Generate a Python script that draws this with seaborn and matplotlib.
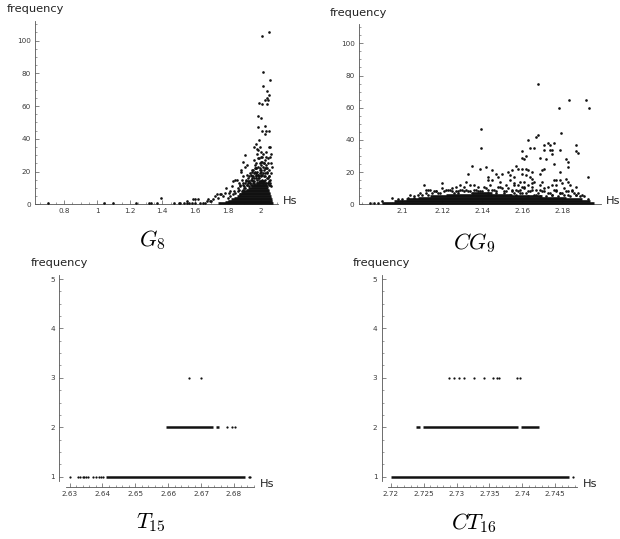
import matplotlib
matplotlib.use("Agg")
import matplotlib.pyplot as plt
import seaborn as sns
from matplotlib.ticker import AutoMinorLocator

# -----------------------------
# Values
# *_x / *_y are single points, *_run_* are the solid stretches per frequency
# -----------------------------
g8_x = [0.70, 1.04, 1.10, 1.24, 1.32, 1.33, 1.37, 1.39, 1.47, 1.50, 1.51, 1.53, 1.55, 1.56, 1.55, 1.58, 1.60,
        1.598, 1.615, 1.585, 1.63, 1.65, 1.66, 1.67, 1.68, 1.69, 1.70, 1.71, 1.72, 1.731, 1.74, 1.751, 1.76, 1.772,
        1.782, 1.792, 1.81, 1.812, 1.823, 1.833, 1.839, 1.843, 1.857, 1.867, 1.874, 1.878, 1.878, 1.894, 1.894, 1.904,
        1.908, 1.910, 1.92, 1.929, 1.941, 1.949, 1.955, 1.961, 1.965, 1.965, 1.971, 1.975, 1.975, 1.98, 1.982, 1.984,
        1.986, 1.986, 1.99, 1.99, 1.996, 1.996, 2.002, 2.002, 2.002, 2.006, 2.006, 2.01, 2.01, 2.012, 2.016, 2.016,
        2.016, 2.016, 2.026, 2.026, 2.026, 2.026, 2.027, 2.031, 2.031, 2.031, 2.037, 2.037, 2.037, 2.037, 2.043, 2.043,
        2.043, 2.049, 2.051, 2.051, 2.051, 2.051, 2.057, 2.057, 2.059, 2.063, 2.067, 2.067, 2.073,
        1.93, 1.94, 1.95, 1.96, 1.97, 1.98, 1.99, 2.00, 2.01, 2.02, 2.03, 2.04, 2.05, 2.06, 1.92, 1.935, 1.945,
        1.955, 1.968, 1.978, 1.992, 2.004, 2.014, 2.024, 2.034, 2.046, 2.056, 2.066, 1.90, 1.885, 1.87, 1.96, 2.00,
        1.86, 1.875, 1.89, 1.905, 1.915, 1.925, 1.938, 1.948, 1.958, 1.97, 1.98, 1.99, 2.00, 2.01, 2.02, 2.03, 2.04,
        2.05, 2.06, 1.95, 1.962, 1.972, 1.984, 1.994, 2.006, 2.018, 2.028, 2.04, 2.052, 1.97, 1.982, 1.994, 2.008,
        2.022, 2.034, 2.048, 1.978, 1.992, 2.012, 2.024, 2.036, 1.83, 1.845, 1.86, 1.875, 1.89, 1.80, 1.815]
g8_y = [1, 1, 1, 1, 1, 1, 1, 4, 1, 1, 1, 1, 1, 1, 2, 1, 1,
        3, 3, 3, 1, 1, 1, 2, 3, 2, 2, 3, 5, 6, 4, 6, 6, 5,
        7, 10, 7, 8, 11, 14, 8, 15, 15, 13, 12, 21, 20, 26, 13, 30,
        23, 15, 24, 17, 18, 20, 17, 35, 24, 22, 37, 25, 19, 34, 54, 47,
        33, 23, 39, 62, 35, 19, 53, 26, 29, 32, 21, 45, 61, 103, 81, 72,
        31, 19, 48, 43, 27, 22, 64, 45, 32, 29, 69, 65, 61, 19, 64, 28,
        25, 45, 105, 67, 35, 21, 35, 29, 76, 19, 31, 25, 23,
        14, 15, 16, 14, 17, 15, 16, 18, 15, 17, 15, 16, 14, 13, 12, 13, 12,
        13, 12, 13, 13, 14, 13, 14, 13, 13, 12, 11, 10, 8, 9, 27, 24,
        10, 11, 9, 10, 12, 14, 13, 15, 16, 18, 20, 17, 20, 18, 21, 17, 20,
        17, 15, 21, 19, 22, 18, 21, 17, 23, 19, 22, 17, 19, 28, 25, 29,
        25, 24, 16, 31, 28, 26, 25, 22, 6, 7, 8, 6, 7, 4, 5]
g8_more_x = [1.885, 1.895, 1.905, 1.915, 1.925, 1.935, 1.945, 1.955, 1.965, 1.975, 1.985, 1.995,
             1.89, 1.90, 1.912, 1.922, 1.932, 1.942, 1.952, 1.962, 1.972, 1.982, 2.045, 2.055]
g8_more_y = [15, 17, 13, 18, 16, 19, 17, 21, 20, 22, 18, 22,
             12, 11, 14, 13, 11, 12, 14, 13, 16, 16, 13, 12]

g8_run_freq = [1, 1.6, 2, 3, 4, 5, 6, 7, 8, 9, 10, 11, 12, 13, 14]
g8_run_lo = [1.74, 1.78, 1.80, 1.82, 1.84, 1.855, 1.868, 1.88, 1.895, 1.91, 1.925, 1.94, 1.955, 1.97, 1.985]
g8_run_hi = [2.075, 2.072, 2.07, 2.068, 2.064, 2.062, 2.058, 2.056, 2.054, 2.05, 2.048, 2.044, 2.04, 2.034, 2.024]

cg9_x = [2.168, 2.1834, 2.192, 2.1784, 2.1935, 2.1395, 2.1795, 2.168, 2.1667, 2.1627, 2.1395, 2.160, 2.164, 2.166,
         2.162, 2.160, 2.161, 2.171, 2.173, 2.174, 2.176, 2.171, 2.174, 2.175, 2.175, 2.169, 2.172, 2.176, 2.179,
         2.187, 2.187, 2.188, 2.182, 2.183, 2.183, 2.179, 2.193, 2.171, 2.170, 2.169, 2.157, 2.158, 2.160, 2.162,
         2.163, 2.165, 2.155, 2.153, 2.154, 2.156, 2.160, 2.162, 2.164, 2.165, 2.166, 2.170, 2.169, 2.142, 2.145,
         2.147, 2.150, 2.148, 2.143, 2.145, 2.143, 2.149, 2.154, 2.156, 2.159, 2.156, 2.158, 2.160, 2.161, 2.163,
         2.165, 2.176, 2.177, 2.179, 2.182, 2.183, 2.175, 2.177, 2.180, 2.184, 2.187, 2.190,
         2.135, 2.133, 2.139, 2.111, 2.120, 2.120, 2.112, 2.113, 2.114, 2.112, 2.117, 2.118, 2.104, 2.108, 2.103,
         2.106, 2.095, 2.090, 2.084, 2.086, 2.088, 2.100, 2.098, 2.125, 2.127, 2.129, 2.132, 2.134, 2.136, 2.138,
         2.131, 2.132, 2.125, 2.127, 2.130, 2.136, 2.138, 2.142, 2.146, 2.150, 2.152, 2.155, 2.158, 2.161, 2.164,
         2.167, 2.170, 2.173, 2.176, 2.179, 2.182, 2.185, 2.188, 2.154, 2.157, 2.160, 2.163, 2.166, 2.169, 2.172,
         2.175, 2.178, 2.181, 2.184, 2.187, 2.191, 2.193, 2.144, 2.148, 2.122, 2.128, 2.134, 2.115, 2.110, 2.106,
         2.116, 2.119, 2.123, 2.126, 2.129, 2.133, 2.137, 2.140, 2.143, 2.147, 2.151, 2.153, 2.156, 2.159, 2.162,
         2.165, 2.168, 2.171, 2.174, 2.177, 2.180, 2.183, 2.186, 2.189, 2.141, 2.145, 2.149, 2.152, 2.157, 2.161,
         2.165, 2.169, 2.173, 2.177, 2.181, 2.185, 2.121, 2.124, 2.128, 2.131, 2.135, 2.139, 2.143, 2.147, 2.151,
         2.155, 2.159, 2.163, 2.167, 2.171, 2.175, 2.179, 2.183, 2.187, 2.109, 2.113, 2.117]
cg9_y = [75, 65, 65, 60, 60, 47, 44, 43, 42, 40, 35, 33, 35, 35,
         30, 29, 28, 37, 38, 37, 38, 34, 34, 34, 31, 29, 28, 25, 34,
         37, 33, 32, 28, 26, 23, 20, 17, 22, 21, 19, 24, 22, 22, 22,
         21, 20, 21, 20, 18, 17, 19, 18, 17, 16, 14, 14, 12, 23, 21,
         19, 19, 17, 17, 15, 15, 14, 15, 13, 14, 12, 12, 11, 14, 12,
         13, 15, 15, 15, 16, 14, 12, 12, 13, 12, 11, 6,
         24, 19, 22, 12, 13, 10, 9, 9, 9, 7, 8, 7, 6, 6, 4,
         4, 4, 2, 1, 1, 1, 3, 3, 10, 11, 12, 14, 12, 12, 11,
         11, 9, 8, 8, 9, 9, 8, 10, 9, 10, 8, 9, 8, 10, 8,
         9, 8, 7, 9, 7, 8, 9, 7, 6, 6, 7, 5, 6, 5, 5,
         6, 5, 6, 5, 6, 5, 3, 12, 11, 9, 8, 8, 7, 6, 5,
         8, 7, 9, 7, 9, 8, 9, 8, 9, 7, 8, 10, 7, 9, 7,
         9, 7, 10, 7, 9, 7, 8, 7, 5, 11, 9, 11, 12, 9, 11,
         11, 9, 11, 8, 10, 8, 8, 9, 7, 8, 7, 8, 7, 8, 7,
         8, 7, 8, 6, 8, 6, 7, 6, 6, 7, 6, 8]

cg9_run_freq = [1, 2, 3, 4, 5, 6, 7]
cg9_run_lo = [2.090, 2.096, 2.102, 2.108, 2.114, 2.122, 2.135]
cg9_run_hi = [2.196, 2.194, 2.190, 2.182, 2.170, 2.155, 2.145]

t15_x = [2.63, 2.6325, 2.6332, 2.634, 2.6345, 2.635, 2.6357, 2.6372, 2.638, 2.639, 2.6396, 2.6402, 2.6845, 2.685,
         2.6779, 2.6794, 2.6804, 2.6664, 2.67]
t15_y = [1, 1, 1, 1, 1, 1, 1, 1, 1, 1, 1, 1, 1, 1,
         2, 2, 2, 3, 3]
t15_run_freq = [1, 2, 2]
t15_run_lo = [2.641, 2.6593, 2.6745]
t15_run_hi = [2.6835, 2.6735, 2.6755]

ct16_x = [2.7477, 2.7288, 2.7296, 2.7304, 2.7312, 2.7326, 2.7342, 2.7356, 2.7361, 2.7365, 2.7392, 2.7397]
ct16_y = [1, 3, 3, 3, 3, 3, 3, 3, 3, 3, 3, 3]
ct16_run_freq = [1, 2, 2, 2]
ct16_run_lo = [2.72, 2.7238, 2.7249, 2.7398]
ct16_run_hi = [2.7471, 2.7245, 2.7394, 2.7426]

sns.set_style("ticks")
plt.rcParams["mathtext.fontset"] = "cm"

W, H = 620, 539
INK = "#111111"
AXIS = "#555555"
TICK = "#3a3a3a"

fig = plt.figure(figsize=(W / 100, H / 100), dpi=100)


# Helper: one panel, box given in picture pixels (left, top, right, bottom)
def panel(box, xlim, ylim, xticks, xlabels, yticks, xpad, ypad, ms, run_lw, xs, ys, rf, rl, rh, minor):
    left, top, right, bottom = box
    ax = fig.add_axes([left / W, 1 - bottom / H, (right - left) / W, (bottom - top) / H])
    ax.set_xlim(*xlim)
    ax.set_ylim(*ylim)
    ax.hlines(rf, rl, rh, color=INK, linewidth=run_lw, clip_on=False, zorder=3)
    sns.scatterplot(x=xs, y=ys, ax=ax, s=ms, color=INK, linewidth=0, clip_on=False, zorder=3)
    ax.set_xticks(xticks)
    ax.set_xticklabels(xlabels)
    ax.set_yticks(yticks)
    ax.xaxis.set_minor_locator(AutoMinorLocator(minor[0]))
    ax.yaxis.set_minor_locator(AutoMinorLocator(minor[1]))
    ax.tick_params(which="major", direction="in", length=3, width=0.5, color=AXIS, labelsize=5.2,
                   labelcolor=TICK, pad=3)
    ax.tick_params(which="minor", direction="in", length=1.5, width=0.4, color=AXIS)
    sns.despine(ax=ax)
    ax.spines["left"].set_position(("outward", ypad * 0.72))
    ax.spines["bottom"].set_position(("outward", xpad * 0.72))
    for side in ["left", "bottom"]:
        ax.spines[side].set_color(AXIS)
        ax.spines[side].set_linewidth(0.6)
    return ax


def label(x, y, text, size=8.2, color="#222222", ha="left"):
    fig.text(x / W, 1 - y / H, text, fontsize=size, color=color, ha=ha, va="center")


panel((35, 21, 278, 204.3), (0.621, 2.107), (0, 112),
      [0.8, 1, 1.2, 1.4, 1.6, 1.8, 2], ["0.8", "1", "1.2", "1.4", "1.6", "1.8", "2"],
      [0, 20, 40, 60, 80, 100], 0, 0, 3.6, 1.9, g8_x + g8_more_x, g8_y + g8_more_y,
      g8_run_freq, g8_run_lo, g8_run_hi, (4, 4))

panel((358.7, 24, 601, 204.3), (2.0782, 2.1994), (0, 112),
      [2.1, 2.12, 2.14, 2.16, 2.18], ["2.1", "2.12", "2.14", "2.16", "2.18"],
      [0, 20, 40, 60, 80, 100], 0, 0, 3.6, 1.9, cg9_x, cg9_y, cg9_run_freq, cg9_run_lo, cg9_run_hi, (4, 4))

# lower panels: the axes do not meet, the spines sit a few pixels off the box
t_ylim = (1 - 4.3 / 49.4, 5 + 4 / 49.4)
panel((66, 275, 254, 481), (2.6289, 2.6861), t_ylim,
      [2.63, 2.64, 2.65, 2.66, 2.67, 2.68], ["2.63", "2.64", "2.65", "2.66", "2.67", "2.68"],
      [1, 2, 3, 4, 5], 6.3, 6.7, 2.6, 1.8, t15_x, t15_y, t15_run_freq, t15_run_lo, t15_run_hi, (5, 4))

panel((388.3, 275, 577.3, 481), (2.7196, 2.7484), t_ylim,
      [2.72, 2.725, 2.73, 2.735, 2.74, 2.745], ["2.72", "2.725", "2.73", "2.735", "2.74", "2.745"],
      [1, 2, 3, 4, 5], 6.3, 6.7, 2.6, 1.8, ct16_x, ct16_y, ct16_run_freq, ct16_run_lo, ct16_run_hi, (5, 4))

# axis captions
label(7, 9.5, "frequency")
label(330, 12.5, "frequency")
label(31, 263.5, "frequency")
label(353, 263.5, "frequency")
label(283, 201, "Hs")
label(606, 201, "Hs")
label(260, 484, "Hs")
label(583, 484, "Hs")

# panel names
label(152, 240, r"$G_8$", size=16, color="black", ha="center")
label(474, 243, r"$CG_9$", size=16, color="black", ha="center")
label(151, 523, r"$T_{15}$", size=16, color="black", ha="center")
label(474, 523, r"$CT_{16}$", size=16, color="black", ha="center")

fig.savefig("out.png", dpi=100)
plt.close(fig)
